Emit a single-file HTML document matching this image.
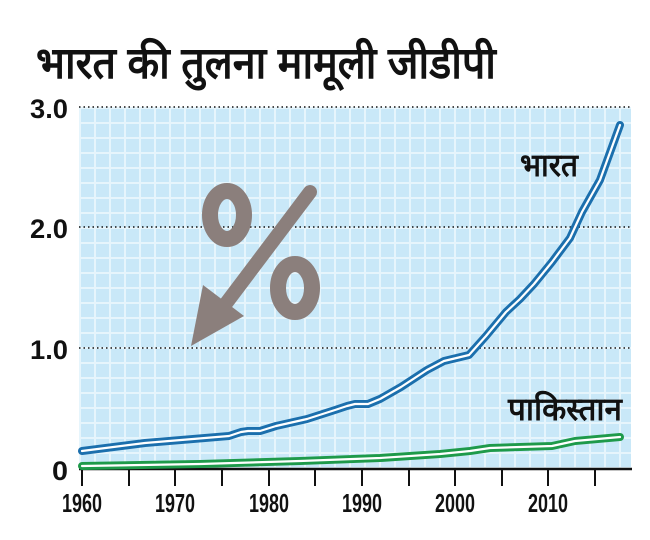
<!DOCTYPE html>
<html><head><meta charset="utf-8"><style>
html,body{margin:0;padding:0;background:#fff;width:650px;height:540px;overflow:hidden}
svg{display:block}
</style></head><body>
<svg width="650" height="540" viewBox="0 0 650 540" xmlns="http://www.w3.org/2000/svg" font-family="'Liberation Sans', sans-serif">
<defs>
<pattern id="g" x="79" y="107" width="15" height="15" patternUnits="userSpaceOnUse">
<rect width="15" height="15" fill="#c9e8f8"/>
<rect x="0" y="0" width="2" height="15" fill="#e6f5fc"/>
<rect x="0" y="0" width="15" height="2" fill="#e6f5fc"/>
</pattern>
</defs>
<text x="36" y="78" font-size="44" font-weight="bold" fill="#111" textLength="460" lengthAdjust="spacingAndGlyphs">भारत की तुलना मामूली जीडीपी</text>
<rect x="79" y="107" width="552" height="362" fill="url(#g)"/>
<g stroke="#111" stroke-width="1.6" stroke-dasharray="1.5 3">
<line x1="79" y1="107" x2="631" y2="107"/>
<line x1="79" y1="227" x2="631" y2="227"/>
<line x1="79" y1="348" x2="631" y2="348"/>
</g>
<g font-size="27" font-weight="bold" fill="#111" text-anchor="end">
<text x="68" y="118" textLength="38" lengthAdjust="spacingAndGlyphs">3.0</text>
<text x="68" y="238" textLength="38" lengthAdjust="spacingAndGlyphs">2.0</text>
<text x="68" y="359" textLength="38" lengthAdjust="spacingAndGlyphs">1.0</text>
<text x="68" y="480" textLength="16" lengthAdjust="spacingAndGlyphs">0</text>
</g>
<g fill="none" stroke="#8b7f7c">
<ellipse cx="227" cy="215" rx="17" ry="24" stroke-width="16"/>
<ellipse cx="295" cy="288" rx="17" ry="24" stroke-width="16"/>
<line x1="310" y1="192" x2="212" y2="322" stroke-width="14" stroke-linecap="round"/>
</g>
<polygon points="191,346 203,285 244,316" fill="#8b7f7c"/>
<line x1="79" y1="469" x2="632" y2="469" stroke="#111" stroke-width="2.5"/>
<g stroke="#111" stroke-width="2">
<line x1="82" y1="469" x2="82" y2="486"/><line x1="129" y1="469" x2="129" y2="486"/>
<line x1="175" y1="469" x2="175" y2="486"/><line x1="222" y1="469" x2="222" y2="486"/>
<line x1="269" y1="469" x2="269" y2="486"/><line x1="315" y1="469" x2="315" y2="486"/>
<line x1="362" y1="469" x2="362" y2="486"/><line x1="409" y1="469" x2="409" y2="486"/>
<line x1="455" y1="469" x2="455" y2="486"/><line x1="502" y1="469" x2="502" y2="486"/>
<line x1="548" y1="469" x2="548" y2="486"/><line x1="595" y1="469" x2="595" y2="486"/>
</g>
<g font-size="26" font-weight="bold" fill="#111" text-anchor="middle">
<text x="82" y="512" textLength="40" lengthAdjust="spacingAndGlyphs">1960</text>
<text x="175" y="512" textLength="40" lengthAdjust="spacingAndGlyphs">1970</text>
<text x="269" y="512" textLength="40" lengthAdjust="spacingAndGlyphs">1980</text>
<text x="362" y="512" textLength="40" lengthAdjust="spacingAndGlyphs">1990</text>
<text x="455" y="512" textLength="40" lengthAdjust="spacingAndGlyphs">2000</text>
<text x="548" y="512" textLength="40" lengthAdjust="spacingAndGlyphs">2010</text>
</g>
<g fill="none" stroke-linejoin="round" stroke-linecap="round">
<path d="M82,451 L145,443 L229,436 L241,432 L248,431 L260,431 L276,426 L307,419 L335,410 L347,406 L355,404 L368,404 L380,399 L401,387 L427,370 L444,361 L469,355 L486,336 L506,312 L520,299 L534,284 L552,262 L570,238 L582,212 L600,180 L620,125" stroke="#1b6fad" stroke-width="8"/>
<path d="M82,451 L145,443 L229,436 L241,432 L248,431 L260,431 L276,426 L307,419 L335,410 L347,406 L355,404 L368,404 L380,399 L401,387 L427,370 L444,361 L469,355 L486,336 L506,312 L520,299 L534,284 L552,262 L570,238 L582,212 L600,180 L620,125" stroke="#fff" stroke-width="2.2"/>
<path d="M82,466 L200,464 L300,461 L380,458 L440,454 L470,451 L490,448 L520,447 L552,446 L575,441 L620,437" stroke="#1e9a4a" stroke-width="8"/>
<path d="M82,466 L200,464 L300,461 L380,458 L440,454 L470,451 L490,448 L520,447 L552,446 L575,441 L620,437" stroke="#fff" stroke-width="2.2"/>
</g>
<text x="520" y="176" font-size="32" font-weight="bold" fill="#111" textLength="58" lengthAdjust="spacingAndGlyphs">भारत</text>
<text x="508" y="420" font-size="32" font-weight="bold" fill="#111" textLength="114" lengthAdjust="spacingAndGlyphs">पाकिस्तान</text>
</svg>
</body></html>
